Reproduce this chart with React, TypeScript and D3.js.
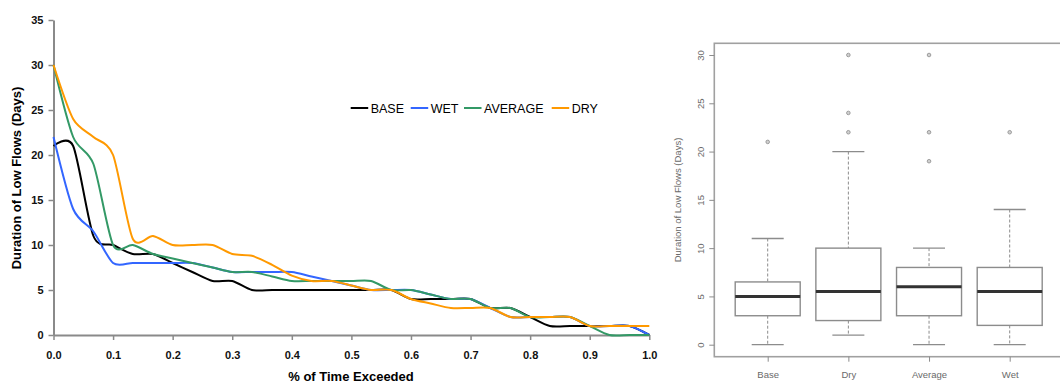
import {useEffect, useRef} from "react";
import * as d3 from "d3";

// exceedance positions (fraction of time) shared by every curve
const exceedance = [
	0, 0.033, 0.067, 0.1, 0.133, 0.167, 0.2, 0.233, 0.267, 0.3, 0.333, 0.367, 0.4, 0.433, 0.467, 0.5,
	0.533, 0.567, 0.6, 0.633, 0.667, 0.7, 0.733, 0.767, 0.8, 0.833, 0.867, 0.9, 0.933, 0.967, 1,
];

const baseDays = [21, 21, 11, 10, 9, 9, 8, 7, 6, 6, 5, 5, 5, 5, 5, 5, 5, 5, 4, 4, 4, 4, 3, 3, 2, 1, 1, 1, 1, 1, 0];
const wetDays = [22, 14, 11.5, 8, 8, 8, 8, 8, 7.5, 7, 7, 7, 7, 6.5, 6, 5.5, 5, 5, 5, 4.5, 4, 4, 3, 2, 2, 2, 2, 1, 1, 1, 0];
const averageDays = [30, 22, 19, 10, 10, 9, 8.5, 8, 7.5, 7, 7, 6.5, 6, 6, 6, 6, 6, 5, 5, 4.5, 4, 4, 3, 3, 2, 2, 2, 1, 0, 0, 0];
const dryDays = [30, 24, 22, 20, 10.7, 11, 10, 10, 10, 9, 8.8, 7.8, 6.6, 6, 6, 5.5, 5, 5, 4, 3.5, 3, 3, 3, 2, 2, 2, 2, 1, 1, 1, 1];

const seriesNames = ["BASE", "WET", "AVERAGE", "DRY"];
const seriesColors = ["#000000", "#3366ff", "#339966", "#ff9900"];

const xTicks = [0, 0.1, 0.2, 0.3, 0.4, 0.5, 0.6, 0.7, 0.8, 0.9, 1.0];
const yTicks = [0, 5, 10, 15, 20, 25, 30, 35];

// box plot summary (right panel)
const boxCategories = ["Base", "Dry", "Average", "Wet"];
const boxLow = [0, 1, 0, 0];
const boxQ1 = [3, 2.5, 3, 2];
const boxMedian = [5, 5.5, 6, 5.5];
const boxQ3 = [6.5, 10, 8, 8];
const boxHigh = [11, 20, 10, 14];
const boxOutliers = [[21], [22, 24, 30], [19, 22, 30], [22]];
const boxTicks = [0, 5, 10, 15, 20, 25, 30];

const FONT = "Arial, 'Liberation Sans', sans-serif";

const App = () => {
	const svgRef = useRef(null);

	useEffect(() => {
		const svg = d3.select(svgRef.current);
		svg.selectAll("*").remove();

		// ---------- left: duration curves ----------
		const x = d3.scaleLinear().domain([0, 1]).range([53.5, 649.3]);
		const y = d3.scaleLinear().domain([0, 35]).range([335, 20]);

		const yAxis = svg.append("g")
			.attr("transform", `translate(${x(0)},0)`)
			.call(d3.axisLeft(y).tickValues(yTicks).tickSize(5).tickPadding(5).tickSizeOuter(0));
		const xAxis = svg.append("g")
			.attr("transform", `translate(0,${y(0)})`)
			.call(d3.axisBottom(x).tickValues(xTicks).tickFormat(d3.format(".1f")).tickSize(5).tickPadding(11).tickSizeOuter(0));

		[yAxis, xAxis].forEach((g) => {
			g.select(".domain").attr("stroke", "#8a8a8a").attr("stroke-width", 2);
			g.selectAll(".tick line").attr("stroke", "#8a8a8a").attr("stroke-width", 1.5);
			g.selectAll(".tick text")
				.attr("font-family", FONT)
				.attr("font-size", 11)
				.attr("font-weight", "bold")
				.attr("fill", "#111");
		});

		const allSeries = [baseDays, wetDays, averageDays, dryDays];
		// excel-like smoothing, a little tighter than plain catmull-rom
		const line = d3.line()
			.x((d) => x(d[0]))
			.y((d) => y(d[1]))
			.curve(d3.curveCardinal.tension(0.2));

		allSeries.forEach((vals, k) => {
			svg.append("path")
				.attr("d", line(exceedance.map((e, i) => [e, vals[i]])))
				.attr("fill", "none")
				.attr("stroke", seriesColors[k])
				.attr("stroke-width", 2);
		});

		svg.append("text")
			.attr("transform", "translate(21,178) rotate(-90)")
			.attr("text-anchor", "middle")
			.attr("font-family", FONT)
			.attr("font-size", 13)
			.attr("font-weight", "bold")
			.text("Duration of Low Flows (Days)");

		svg.append("text")
			.attr("x", 351)
			.attr("y", 381)
			.attr("text-anchor", "middle")
			.attr("font-family", FONT)
			.attr("font-size", 13)
			.attr("font-weight", "bold")
			.text("% of Time Exceeded");

		// legend
		const legendX = [350.7, 410.7, 464, 551.7];
		const legend = svg.append("g").selectAll("g").data(seriesNames).join("g")
			.attr("transform", (d, i) => `translate(${legendX[i]},108)`);
		legend.append("line")
			.attr("x1", 0).attr("x2", 17.5)
			.attr("stroke", (d, i) => seriesColors[i])
			.attr("stroke-width", 2);
		legend.append("text")
			.attr("x", 20)
			.attr("dy", "0.36em")
			.attr("font-family", FONT)
			.attr("font-size", 12.5)
			.text((d) => d);

		// ---------- right: box plots ----------
		const by = d3.scaleLinear().domain([0, 30]).range([344.7, 55]);
		const bx = d3.scalePoint().domain(boxCategories).range([767.7, 1009.7]);
		const grey = "#8c8c8c";

		svg.append("rect")
			.attr("x", 714.3).attr("y", 43.3)
			.attr("width", 360).attr("height", 313.4)
			.attr("fill", "none")
			.attr("stroke", "#a0a0a0")
			.attr("stroke-width", 1.6);

		const byAxis = svg.append("g")
			.attr("transform", "translate(714.3,0)")
			.call(d3.axisLeft(by).tickValues(boxTicks).tickSize(5).tickPadding(0).tickSizeOuter(0));
		byAxis.select(".domain").remove();
		byAxis.selectAll(".tick line").attr("stroke", grey);
		byAxis.selectAll(".tick text")
			.attr("transform", "rotate(-90)")
			.attr("x", 0).attr("y", -14).attr("dy", "0.35em")
			.attr("text-anchor", "middle")
			.attr("font-family", FONT).attr("font-size", 9.5).attr("fill", "#6a6a6a");

		const bxAxis = svg.append("g")
			.attr("transform", "translate(0,356.7)")
			.call(d3.axisBottom(bx).tickSize(5).tickPadding(10).tickSizeOuter(0));
		bxAxis.select(".domain").remove();
		bxAxis.selectAll(".tick line").attr("stroke", grey);
		bxAxis.selectAll(".tick text")
			.attr("font-family", FONT).attr("font-size", 9.5).attr("fill", "#6a6a6a");

		svg.append("text")
			.attr("transform", "translate(678,200) rotate(-90)")
			.attr("text-anchor", "middle")
			.attr("dy", "0.35em")
			.attr("font-family", FONT).attr("font-size", 9.5).attr("fill", "#6a6a6a")
			.text("Duration of Low Flows (Days)");

		const boxes = svg.append("g").selectAll("g").data(boxCategories).join("g");
		const half = 32.5;
		const cap = 16;

		// whiskers
		boxes.append("line")
			.attr("x1", (d) => bx(d)).attr("x2", (d) => bx(d))
			.attr("y1", (d, i) => by(boxHigh[i])).attr("y2", (d, i) => by(boxQ3[i]))
			.attr("stroke", grey).attr("stroke-dasharray", "3,2");
		boxes.append("line")
			.attr("x1", (d) => bx(d)).attr("x2", (d) => bx(d))
			.attr("y1", (d, i) => by(boxQ1[i])).attr("y2", (d, i) => by(boxLow[i]))
			.attr("stroke", grey).attr("stroke-dasharray", "3,2");
		boxes.append("line")
			.attr("x1", (d) => bx(d) - cap).attr("x2", (d) => bx(d) + cap)
			.attr("y1", (d, i) => by(boxHigh[i])).attr("y2", (d, i) => by(boxHigh[i]))
			.attr("stroke", grey).attr("stroke-width", 1.3);
		boxes.append("line")
			.attr("x1", (d) => bx(d) - cap).attr("x2", (d) => bx(d) + cap)
			.attr("y1", (d, i) => by(boxLow[i])).attr("y2", (d, i) => by(boxLow[i]))
			.attr("stroke", grey).attr("stroke-width", 1.3);
		boxes.append("rect")
			.attr("x", (d) => bx(d) - half)
			.attr("width", half * 2)
			.attr("y", (d, i) => by(boxQ3[i]))
			.attr("height", (d, i) => by(boxQ1[i]) - by(boxQ3[i]))
			.attr("fill", "white")
			.attr("stroke", grey).attr("stroke-width", 1.4);
		boxes.append("line")
			.attr("x1", (d) => bx(d) - half).attr("x2", (d) => bx(d) + half)
			.attr("y1", (d, i) => by(boxMedian[i])).attr("y2", (d, i) => by(boxMedian[i]))
			.attr("stroke", "#333").attr("stroke-width", 3);
		boxes.each(function (d, i) {
			d3.select(this).selectAll("circle").data(boxOutliers[i]).join("circle")
				.attr("cx", bx(d))
				.attr("cy", (v) => by(v))
				.attr("r", 1.8)
				.attr("fill", "#d0d0d0")
				.attr("stroke", "#8c8c8c")
				.attr("stroke-width", 0.8);
		});
	}, []);

	return (
		<div style={{position: "absolute", left: 0, top: 0, width: 1060, height: 383, background: "white"}}>
			<svg ref={svgRef} width={1060} height={383}></svg>
		</div>
	);
};

export default App;
